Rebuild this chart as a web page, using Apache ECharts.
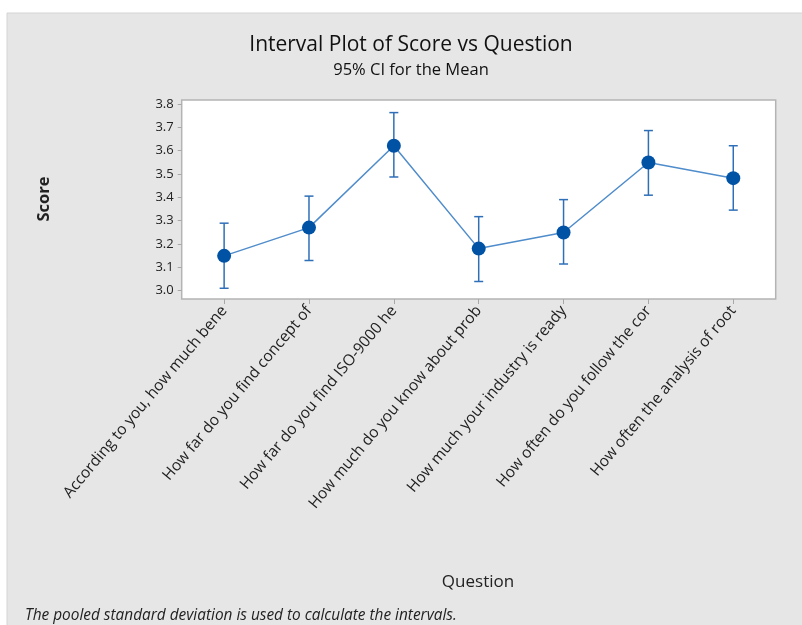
<!DOCTYPE html>
<html><head><meta charset="utf-8">
<script src="https://cdn.jsdelivr.net/npm/echarts@6/dist/echarts.min.js"></script>
<style>html,body{margin:0;padding:0;background:#fff}#c{width:802px;height:625px}</style>
</head><body><div id="c"></div>
<script>
const categories = [
  "According to you, how much bene",
  "How far do you find concept of",
  "How far do you find ISO-9000 he",
  "How much do you know about prob",
  "How much your industry is ready",
  "How often do you follow the cor",
  "How often the analysis of root"
];
const means = [3.149, 3.270, 3.621, 3.180, 3.249, 3.549, 3.482];
const lowerCI = [3.010, 3.129, 3.487, 3.039, 3.114, 3.409, 3.345];
const upperCI = [3.289, 3.405, 3.763, 3.317, 3.390, 3.686, 3.621];
const yTicks = [3.0, 3.1, 3.2, 3.3, 3.4, 3.5, 3.6, 3.7, 3.8];

const chart = echarts.init(document.getElementById('c'), null, {renderer: 'canvas'});
const errData = categories.map((c, i) => [i, lowerCI[i], upperCI[i]]);
const font = '"Open Sans", "Noto Sans", sans-serif';

chart.setOption({
  backgroundColor: '#ffffff',
  animation: false,
  graphic: [
    {type: 'rect', z: -10, shape: {x: 7, y: 13, width: 800, height: 620}, style: {fill: '#e6e6e6', stroke: '#d4d4d4', lineWidth: 1}},
    {type: 'text', x: 411, y: 35, style: {text: 'Interval Plot of Score vs Question', font: '21px ' + font, fill: '#111', align: 'center'}},
    {type: 'text', x: 411, y: 62, style: {text: '95% CI for the Mean', font: '16.5px ' + font, fill: '#111', align: 'center'}},
    {type: 'text', x: 44, y: 199, rotation: Math.PI / 2, style: {text: 'Score', font: 'bold 16.5px ' + font, fill: '#222', align: 'center', verticalAlign: 'middle'}},
    {type: 'text', x: 478, y: 574, style: {text: 'Question', font: '17px ' + font, fill: '#222', align: 'center'}},
    {type: 'text', x: 25, y: 608, style: {text: 'The pooled standard deviation is used to calculate the intervals.', font: 'italic 15.4px ' + font, fill: '#222'}}
  ],
  grid: {left: 181.7, right: 26.3, top: 100, bottom: 326, show: true, backgroundColor: '#ffffff', borderColor: '#b4b4b4', borderWidth: 1.5},
  xAxis: {
    type: 'category', data: categories, boundaryGap: true,
    axisLine: {show: false},
    axisTick: {show: true, alignWithLabel: true, length: 5, inside: false, lineStyle: {color: '#a8a8a8'}},
    axisLabel: {rotate: 50, interval: 0, color: '#222', fontFamily: font, fontSize: 15.5, margin: 9}
  },
  yAxis: {
    type: 'value', min: 2.964, max: 3.817,
    splitLine: {show: false},
    axisLine: {show: false},
    axisTick: {show: true, length: 4, lineStyle: {color: '#a8a8a8'}, customValues: yTicks},
    axisLabel: {color: '#222', fontFamily: font, fontSize: 13, margin: 8, customValues: yTicks, formatter: v => v.toFixed(1)}
  },
  series: [
    {
      type: 'custom', data: errData, z: 3,
      renderItem: function (params, api) {
        const x = api.value(0);
        const lo = api.coord([x, api.value(1)]);
        const hi = api.coord([x, api.value(2)]);
        const w = 4.5;
        const st = {stroke: '#2f6fb8', lineWidth: 1.5};
        return {type: 'group', children: [
          {type: 'line', shape: {x1: lo[0], y1: lo[1], x2: hi[0], y2: hi[1]}, style: st},
          {type: 'line', shape: {x1: lo[0] - w, y1: lo[1], x2: lo[0] + w, y2: lo[1]}, style: st},
          {type: 'line', shape: {x1: hi[0] - w, y1: hi[1], x2: hi[0] + w, y2: hi[1]}, style: st}
        ]};
      }
    },
    {
      type: 'line', data: means, z: 4,
      symbol: 'circle', symbolSize: 14,
      lineStyle: {color: '#4f8ccb', width: 1.5},
      itemStyle: {color: '#0052a5'}
    }
  ]
});
</script></body></html>
